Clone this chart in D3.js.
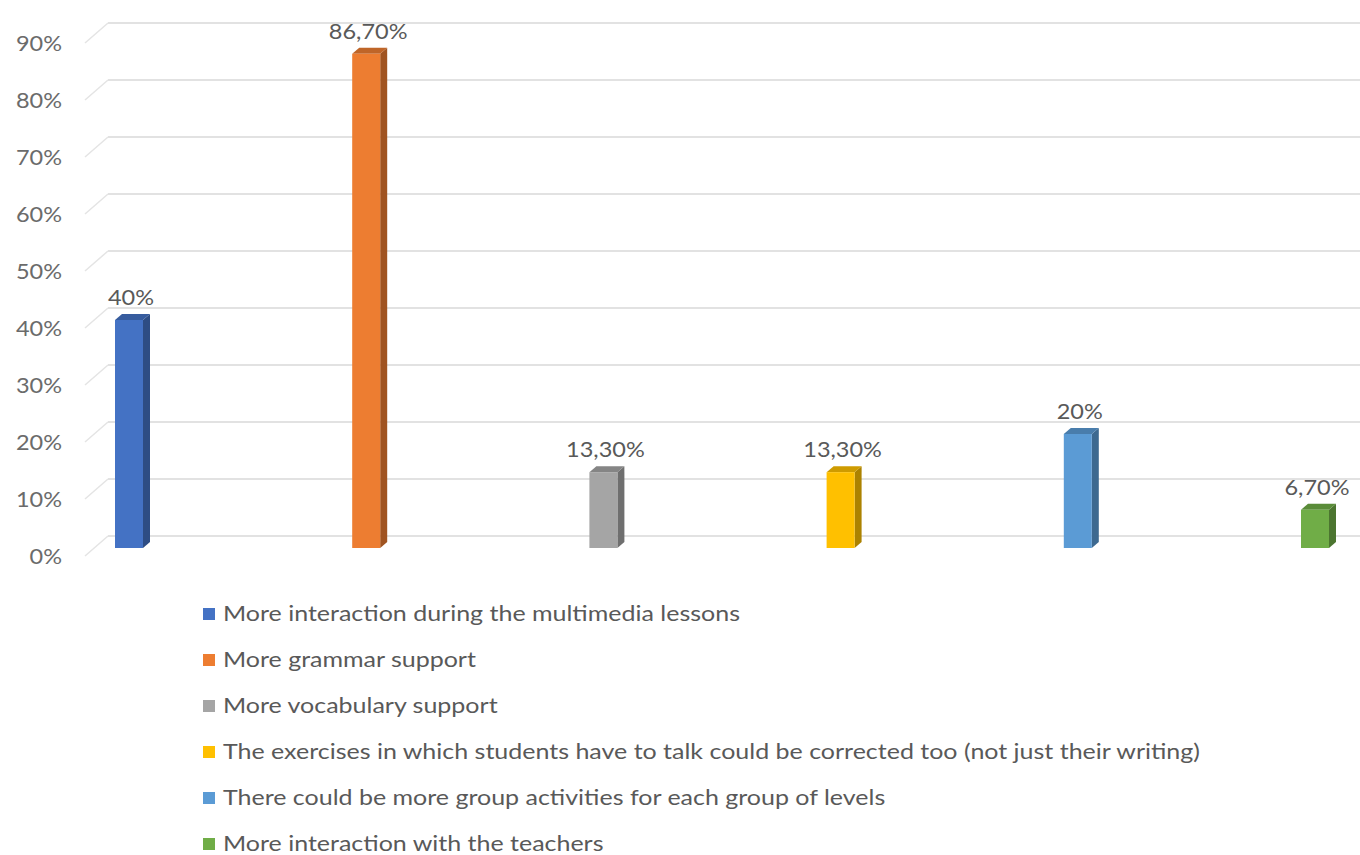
<!DOCTYPE html>
<html>
<head>
<meta charset="utf-8">
<script src="https://cdn.jsdelivr.net/npm/d3@7"></script>
<style>
  body { margin: 0; background: #fff; }
  svg { display: block; font-family: Lato, "Open Sans", sans-serif; }
</style>
</head>
<body>
<div id="chart"></div>
<script>
// chart data
var categories = [
    "More interaction during the multimedia lessons",
    "More grammar support",
    "More vocabulary support",
    "The exercises in which students have to talk could be corrected too (not just their writing)",
    "There could be more group activities for each group of levels",
    "More interaction with the teachers"
]
var values = [0.40, 0.867, 0.133, 0.133, 0.20, 0.067]
var valueLabels = ["40%", "86,70%", "13,30%", "13,30%", "20%", "6,70%"]
var tickValues = [0, 0.1, 0.2, 0.3, 0.4, 0.5, 0.6, 0.7, 0.8, 0.9]

var colors = ["#4472C4", "#ED7D31", "#A5A5A5", "#FFC000", "#5B9BD5", "#70AD47"]

const W = 1360, H = 855
const BAR_W = 28
const DX = 7, DY = 6   // depth of the 3d bars
const STRETCH = 1.12   // the picture's text is a bit wide

var svg = d3.select("#chart").append("svg")
    .attr("width", W)
    .attr("height", H)

// scales: back wall and front plane of the bars
var x = d3.scalePoint().domain(categories).range([129, 1315])
var yBack = d3.scaleLinear().domain([0, 0.9]).range([536, 23])
var yFront = d3.scaleLinear().domain([0, 0.9]).range([548, 35])

// gridlines on the back wall + little side wall diagonal
var grid = svg.append("g").attr("class", "grid")
grid.selectAll("line.h")
    .data(tickValues)
    .enter().append("line")
    .attr("class", "h")
    .attr("x1", 108).attr("x2", W)
    .attr("y1", d => yBack(d)).attr("y2", d => yBack(d))
    .attr("stroke", "#d9d9d9").attr("stroke-width", 1.5)
grid.selectAll("line.d")
    .data(tickValues)
    .enter().append("line")
    .attr("class", "d")
    .attr("x1", 108).attr("x2", 85)
    .attr("y1", d => yBack(d)).attr("y2", d => yBack(d) + 20)
    .attr("stroke", "#e4e4e4").attr("stroke-width", 1.5)

// y tick labels
svg.append("g").selectAll("text")
    .data(tickValues)
    .enter().append("text")
    .attr("transform", d => `translate(62,${yBack(d) + 21}) scale(${STRETCH},1)`)
    .attr("dy", "0.35em")
    .attr("text-anchor", "end")
    .style("font-size", "21px")
    .style("fill", "#6b6b6b")
    .text(d => d3.format(".0%")(d))

// bars
var bars = svg.append("g").selectAll("g.bar")
    .data(values)
    .enter().append("g")
    .attr("class", "bar")

function shade(c, k) { return d3.color(c).darker(k).formatHex() }

// side face
bars.append("path")
    .attr("d", function(d, i) {
        var x0 = x(categories[i]) + BAR_W / 2, yt = yFront(d), yb = yFront(0)
        return `M${x0},${yt} L${x0 + DX},${yt - DY} L${x0 + DX},${yb - DY} L${x0},${yb} Z`
    })
    .attr("fill", (d, i) => shade(colors[i], 1.1))
// top face
bars.append("path")
    .attr("d", function(d, i) {
        var x0 = x(categories[i]) - BAR_W / 2, yt = yFront(d)
        return `M${x0},${yt} L${x0 + DX},${yt - DY} L${x0 + BAR_W + DX},${yt - DY} L${x0 + BAR_W},${yt} Z`
    })
    .attr("fill", (d, i) => shade(colors[i], 0.6))
// front face
bars.append("rect")
    .attr("x", (d, i) => x(categories[i]) - BAR_W / 2)
    .attr("y", d => yFront(d))
    .attr("width", BAR_W)
    .attr("height", d => yFront(0) - yFront(d))
    .attr("fill", (d, i) => colors[i])

// data labels
svg.append("g").selectAll("text")
    .data(values)
    .enter().append("text")
    .attr("transform", (d, i) => `translate(${x(categories[i]) + 2},${yFront(d) - DY - 9}) scale(${STRETCH},1)`)
    .attr("text-anchor", "middle")
    .style("font-size", "21px")
    .style("fill", "#595959")
    .text((d, i) => valueLabels[i])

// legend
var legend = svg.append("g").selectAll("g")
    .data(categories)
    .enter().append("g")
    .attr("transform", (d, i) => "translate(203," + (621 + i * 46) + ")")

legend.append("rect")
    .attr("x", 0).attr("y", -13)
    .attr("width", 12).attr("height", 12)
    .attr("fill", (d, i) => colors[i])

legend.append("text")
    .attr("transform", "translate(20,0) scale(1.19,1)")
    .style("font-size", "21px")
    .style("fill", "#595959")
    .text(d => d)
</script>
</body>
</html>
